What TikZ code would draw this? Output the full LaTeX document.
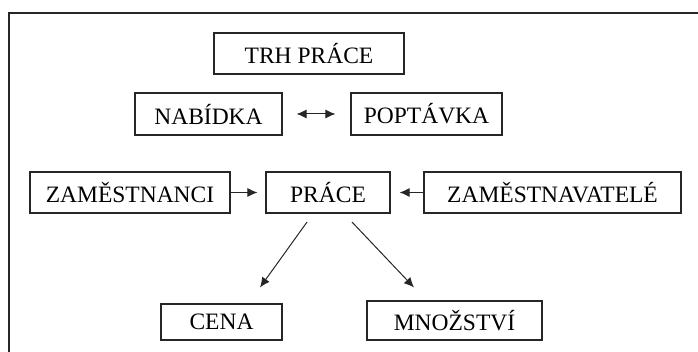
\documentclass[tikz,border=0pt]{standalone}
\usepackage{fontspec}
\setmainfont{Liberation Serif}
\usetikzlibrary{calc,arrows.meta}

\begin{document}
\begin{tikzpicture}[x=1pt, y=1pt, every node/.style={font=\fontsize{23.5}{28}\selectfont},
		box/.style={draw=black!85, line width=1.1pt, inner sep=0pt, minimum height=41pt},
		arr/.style={draw=black!85, line width=1pt, -{Latex[length=10pt,width=9pt]}}]
		\useasboundingbox (0,0) rectangle (698,352);
		% outer frame, runs off the page at right and bottom
		\draw[black!85, line width=1.2pt] (9,-10) -- (9,339) -- (710,339);
		% boxes
		\node[box, minimum width=190pt] (trh) at (309,298.5) {TRH PRÁCE};
		\node[box, minimum width=147pt, minimum height=42pt] (nab) at (208.5,238) {NABÍDKA};
		\node[box, minimum width=151pt, minimum height=42pt] (pop) at (426.5,238) {POPTÁVKA};
		\node[box, minimum width=200pt] (zam) at (130,159.5) {ZAMĚSTNANCI};
		\node[box, minimum width=124pt] (prace) at (328,159.5) {PRÁCE};
		\node[box, minimum width=257pt] (zmv) at (552.5,159.5) {ZAMĚSTNAVATELÉ};
		\node[box, minimum width=121pt, minimum height=36pt] (cena) at (221.5,30) {CENA};
		\node[box, minimum width=175pt, minimum height=39pt] (mnoz) at (454.5,31.5) {MNOŽSTVÍ};
		% arrows
		\draw[arr, {Latex[length=10pt,width=9pt]}-{Latex[length=10pt,width=9pt]}, shorten <=14pt, shorten >=15pt] (nab.east) -- (pop.west);
		\draw[arr, shorten >=8pt] (zam.east) -- (prace.west);
		\draw[arr, shorten >=9pt] (zmv.west) -- (prace.east);
		\draw[arr] ($(prace.south)+(-21,-8.5)$) -- ($(cena.north)+(38.5,16)$);
		\draw[arr] ($(prace.south)+(24,-8.5)$) -- ($(mnoz.north)+(-40.5,13)$);
\end{tikzpicture}
\end{document}
